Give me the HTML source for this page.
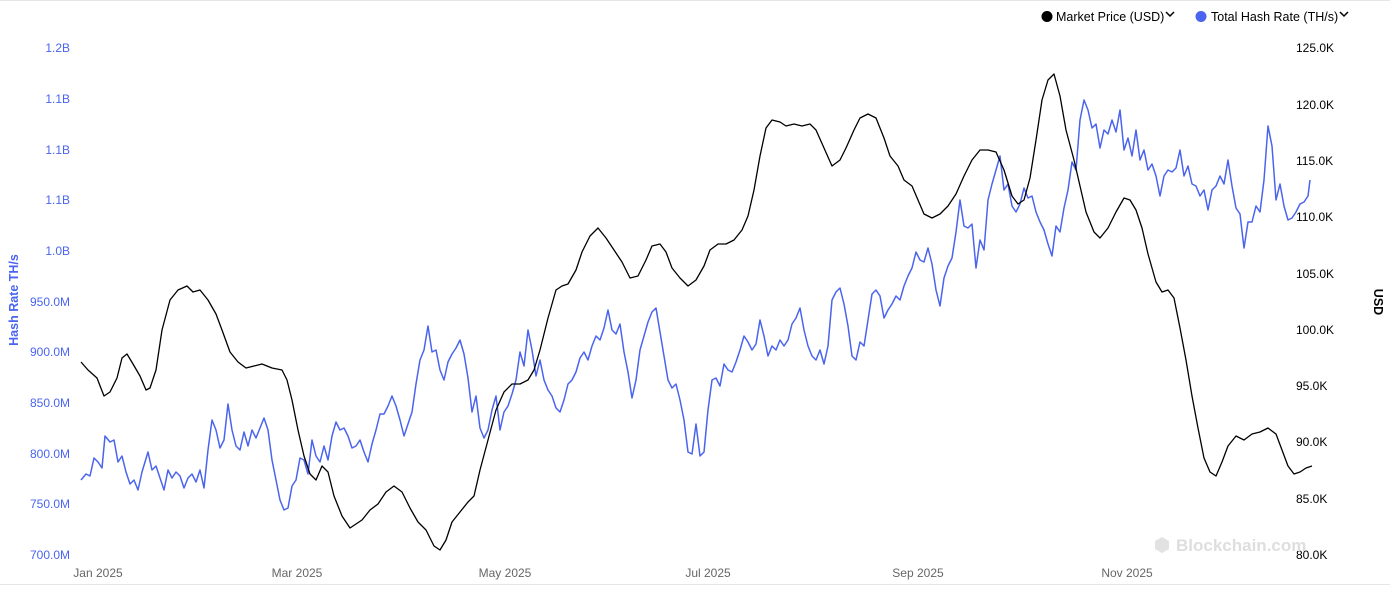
<!DOCTYPE html>
<html><head><meta charset="utf-8"><style>
html,body{margin:0;padding:0;background:#fff;width:1390px;height:601px;overflow:hidden}
svg{display:block;font-family:"Liberation Sans",sans-serif}
</style></head><body>
<svg width="1390" height="601" viewBox="0 0 1390 601" xmlns="http://www.w3.org/2000/svg">
<line x1="0" y1="0.5" x2="1390" y2="0.5" stroke="#e6e6e6"/>
<line x1="0" y1="584.5" x2="1390" y2="584.5" stroke="#e6e6e6"/>
<!-- legend -->
<circle cx="1047" cy="16.5" r="5.5" fill="#000"/>
<text x="1056" y="21" font-size="12.5" fill="#000">Market Price (USD)</text>
<path d="M1166 12 l4 4 l4 -4" stroke="#000" stroke-width="1.5" fill="none"/>
<circle cx="1201" cy="16.5" r="5.5" fill="#4a64ef"/>
<text x="1211" y="21" font-size="12.5" fill="#000">Total Hash Rate (TH/s)</text>
<path d="M1340 12 l4 4 l4 -4" stroke="#000" stroke-width="1.5" fill="none"/>
<!-- left axis -->
<g font-size="12" fill="#4a64ef" text-anchor="end">
<text x="70" y="52">1.2B</text><text x="70" y="103">1.1B</text><text x="70" y="154">1.1B</text><text x="70" y="204">1.1B</text><text x="70" y="255">1.0B</text><text x="70" y="306">950.0M</text><text x="70" y="356">900.0M</text><text x="70" y="407">850.0M</text><text x="70" y="458">800.0M</text><text x="70" y="508">750.0M</text><text x="70" y="559">700.0M</text>
</g>
<text transform="translate(18,300) rotate(-90)" text-anchor="middle" font-size="12.5" font-weight="bold" fill="#4a64ef">Hash Rate TH/s</text>
<!-- right axis -->
<g font-size="12" fill="#000">
<text x="1296" y="52">125.0K</text><text x="1296" y="109">120.0K</text><text x="1296" y="165">115.0K</text><text x="1296" y="221">110.0K</text><text x="1296" y="278">105.0K</text><text x="1296" y="334">100.0K</text><text x="1296" y="390">95.0K</text><text x="1296" y="446">90.0K</text><text x="1296" y="503">85.0K</text><text x="1296" y="559">80.0K</text>
</g>
<text transform="translate(1374,302) rotate(90)" text-anchor="middle" font-size="12.5" font-weight="bold" fill="#000">USD</text>
<!-- x axis -->
<g font-size="12" fill="#666" text-anchor="middle">
<text x="98" y="577">Jan 2025</text><text x="297" y="577">Mar 2025</text><text x="505" y="577">May 2025</text><text x="708" y="577">Jul 2025</text><text x="918" y="577">Sep 2025</text><text x="1127" y="577">Nov 2025</text>
</g>
<!-- watermark -->
<path d="M1162 537 l7 4 v8 l-7 4 l-7 -4 v-8z" fill="#e2e2e2"/>
<text x="1176" y="551" font-size="17" font-weight="bold" fill="#dedede">Blockchain.com</text>
<!-- hash rate -->
<polyline fill="none" stroke="#4a64ef" stroke-width="1.5" stroke-linejoin="round" points="81,480 86,474 90,476 94,458 98,462 102,468 105,436 110,442 114,440 118,462 122,456 126,472 130,484 134,480 138,490 142,472 148,452 152,470 156,466 160,478 164,490 168,470 172,478 176,472 180,476 184,488 188,478 192,474 196,482 200,470 204,488 208,450 212,420 216,430 220,448 224,440 228,404 232,430 236,446 240,450 244,432 248,446 252,430 256,438 260,428 264,418 268,430 272,460 276,480 280,500 284,510 288,508 292,486 296,480 300,458 304,460 308,474 312,440 316,456 320,462 324,446 328,460 332,436 336,422 340,430 344,428 348,436 352,448 356,446 360,440 364,452 368,462 372,444 376,430 380,414 384,414 388,406 392,396 396,406 400,420 404,436 408,424 412,412 416,384 420,360 424,350 428,326 432,352 436,350 440,370 444,380 448,362 452,354 456,348 460,340 464,354 468,378 472,412 476,396 480,428 484,438 488,430 492,410 496,396 500,430 504,412 508,406 512,394 516,380 520,352 524,366 528,330 532,350 536,376 540,360 544,380 548,390 552,396 556,408 560,412 564,400 568,384 572,380 576,372 580,358 584,352 588,360 592,346 596,336 600,340 604,328 608,310 612,330 616,334 620,324 624,352 628,372 632,398 636,380 640,350 644,336 648,322 652,312 656,308 660,332 664,356 668,380 672,388 676,384 680,400 684,420 688,452 692,454 696,424 700,456 704,452 708,410 712,380 716,378 720,386 724,364 728,370 732,372 736,362 740,350 744,336 748,342 752,350 756,344 760,320 764,336 768,356 772,346 776,350 780,340 784,346 788,340 792,324 796,318 800,308 804,330 808,346 812,356 816,360 820,350 824,364 828,346 832,300 836,292 840,288 844,304 848,326 852,356 856,360 860,342 864,346 868,320 872,294 876,290 880,296 884,318 888,310 892,304 896,296 900,300 904,286 908,276 912,268 916,252 920,260 924,262 928,248 932,264 936,290 940,306 944,278 948,266 952,258 956,232 960,200 964,226 968,228 972,224 976,268 980,240 984,250 988,200 992,184 996,170 1000,156 1004,190 1008,184 1012,206 1016,212 1020,204 1024,188 1028,198 1032,196 1036,212 1040,222 1044,230 1048,244 1052,256 1056,226 1060,232 1064,208 1068,190 1072,162 1076,170 1080,120 1084,100 1088,110 1092,128 1096,124 1100,148 1104,130 1108,134 1112,120 1116,132 1120,110 1124,150 1128,138 1132,156 1136,130 1140,160 1144,150 1148,170 1152,164 1156,176 1160,196 1164,176 1168,170 1172,172 1176,168 1180,150 1184,176 1188,166 1192,184 1196,186 1200,196 1204,190 1208,210 1212,190 1216,186 1220,176 1224,184 1228,160 1232,186 1236,208 1240,214 1244,248 1248,222 1252,222 1256,206 1260,212 1264,180 1268,126 1272,146 1276,200 1280,184 1284,206 1288,220 1292,218 1296,212 1300,204 1304,202 1308,196 1310,180"/>
<!-- price -->
<polyline fill="none" stroke="#000" stroke-width="1.3" stroke-linejoin="round" points="81,362 88,370 97,378 104,396 110,392 117,378 122,358 127,354 133,364 140,376 146,390 150,388 156,370 162,330 170,300 178,290 187,286 193,292 200,290 208,300 216,314 222,330 230,352 238,362 246,368 254,366 262,364 272,368 282,370 287,380 292,400 298,430 304,456 310,474 316,480 322,466 328,472 334,496 342,516 350,528 356,524 362,520 370,510 378,504 386,492 394,486 402,492 410,508 418,522 426,530 434,546 440,550 446,540 452,522 460,512 468,502 474,496 480,470 488,440 496,410 504,392 512,384 520,384 528,380 534,370 540,350 548,318 556,290 562,286 568,284 576,270 582,252 590,236 598,228 606,238 614,250 622,262 630,278 638,276 646,260 652,246 660,244 666,252 672,268 680,278 688,286 696,280 704,266 710,250 718,244 726,244 734,240 742,230 748,216 754,190 760,156 766,128 772,120 780,122 786,126 794,124 802,126 810,124 816,130 824,148 832,166 840,160 846,148 854,130 860,118 868,114 876,118 884,138 890,156 898,166 904,180 912,186 918,200 924,214 932,218 940,214 948,206 956,194 964,176 972,160 980,150 988,150 996,152 1004,170 1012,196 1018,204 1024,200 1030,178 1036,140 1042,100 1048,80 1054,74 1060,96 1066,130 1074,160 1080,186 1086,212 1094,232 1100,238 1108,228 1116,212 1124,198 1130,200 1136,210 1142,228 1148,254 1156,282 1162,292 1168,290 1174,298 1180,328 1186,360 1192,396 1198,428 1204,458 1210,472 1216,476 1222,462 1228,446 1236,436 1244,440 1252,434 1260,432 1268,428 1276,434 1282,450 1288,466 1294,474 1300,472 1306,468 1312,466"/>
</svg>
</body></html>
